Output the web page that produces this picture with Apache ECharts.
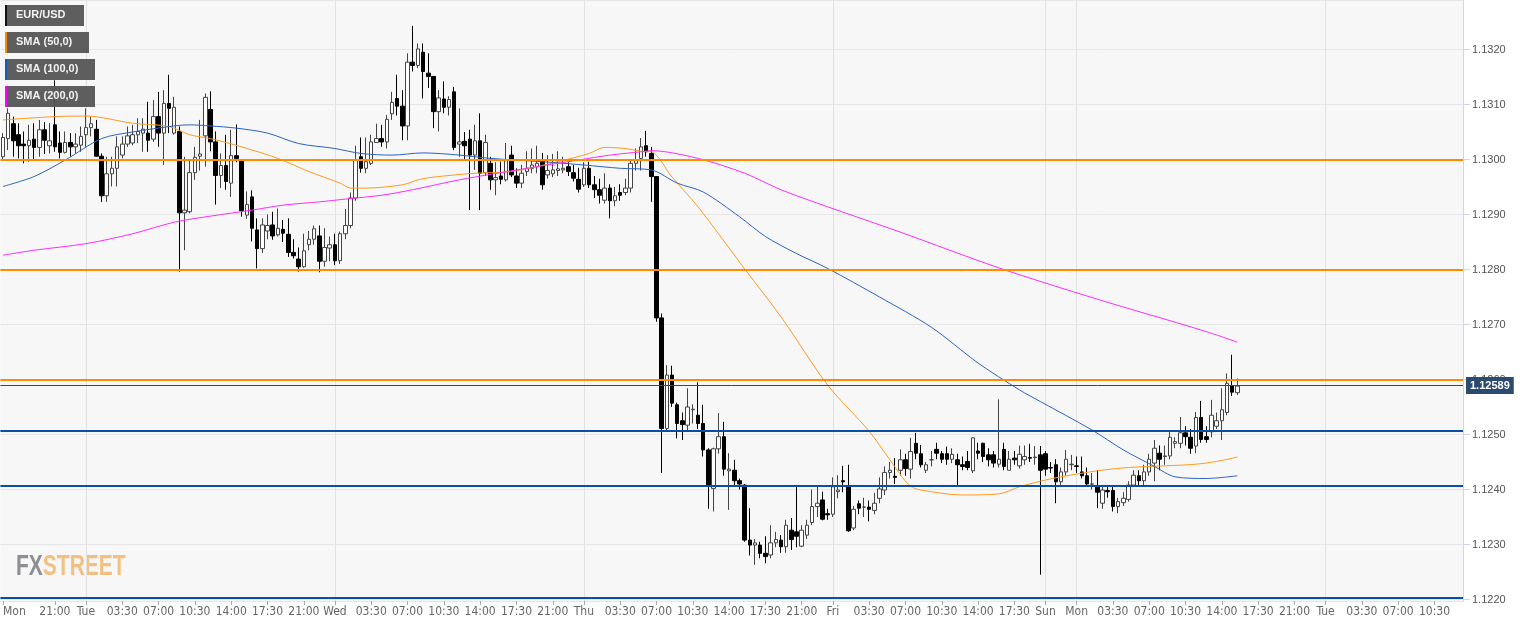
<!DOCTYPE html>
<html>
<head>
<meta charset="utf-8">
<script src="https://cdn.jsdelivr.net/npm/echarts@6/dist/echarts.min.js"></script>
<style>
html,body{margin:0;padding:0;background:#fff;}
#chart{width:1534px;height:626px;}
</style>
</head>
<body>
<div id="chart"></div>
<script>
// ---- sessions (day, start minute, number of 30-min slots) ----
const sessions = [
  ['Mon', 960, 16], ['Tue', 0, 48], ['Wed', 0, 48], ['Thu', 0, 48],
  ['Fri', 0, 41], ['Sun', 1260, 6], ['Mon', 0, 48], ['Tue', 0, 27]
];
const labelTimes = ['03:30', '07:00', '10:30', '14:00', '17:30', '21:00'];

// ---- EUR/USD 30-min candles: [open, close, low, high] ----
const candles = [
[1.13005,1.13040,1.12999,1.13048],[1.13038,1.13084,1.13017,1.13093],[1.13065,1.13034,1.13005,1.13078],[1.13045,1.13025,1.13002,1.13066],
[1.13028,1.13025,1.12993,1.13051],[1.13025,1.13035,1.12996,1.13063],[1.13037,1.13022,1.12999,1.13066],[1.13022,1.13054,1.13005,1.13072],
[1.13054,1.13035,1.13010,1.13068],[1.13025,1.13034,1.13011,1.13066],[1.13063,1.13023,1.13014,1.13144],[1.13030,1.13013,1.13002,1.13051],
[1.13013,1.13031,1.13011,1.13051],[1.13031,1.13023,1.13005,1.13048],[1.13023,1.13028,1.13011,1.13048],[1.13026,1.13042,1.13014,1.13060],
[1.13045,1.13058,1.13023,1.13093],[1.13058,1.13065,1.13042,1.13078],[1.13055,1.13006,1.13005,1.13072],[1.13006,1.12934,1.12923,1.13011],
[1.12934,1.12974,1.12923,1.13005],[1.12974,1.12984,1.12951,1.13005],[1.12984,1.13023,1.12951,1.13042],[1.13008,1.13028,1.13002,1.13042],
[1.13028,1.13043,1.13023,1.13060],[1.13030,1.13045,1.13026,1.13063],[1.13045,1.13051,1.13030,1.13075],[1.13048,1.13055,1.13014,1.13075],
[1.13048,1.13035,1.13014,1.13105],[1.13037,1.13078,1.13032,1.13108],[1.13078,1.13048,1.13023,1.13123],[1.13048,1.13102,1.12990,1.13126],
[1.13102,1.13093,1.13048,1.13154],[1.13048,1.13095,1.13045,1.13114],[1.13051,1.12903,1.12796,1.13060],[1.12903,1.12908,1.12835,1.13005],
[1.12905,1.12976,1.12902,1.12999],[1.12976,1.13004,1.12963,1.13023],[1.13006,1.13010,1.12980,1.13072],[1.13043,1.13113,1.12987,1.13120],
[1.13091,1.13032,1.13015,1.13124],[1.13032,1.12971,1.12918,1.13051],[1.12971,1.12989,1.12948,1.13011],[1.12989,1.12960,1.12945,1.13045],
[1.12957,1.13007,1.12932,1.13054],[1.13007,1.13002,1.12995,1.13064],[1.12998,1.12907,1.12896,1.13000],[1.12899,1.12918,1.12892,1.12942],
[1.12932,1.12875,1.12851,1.12944],[1.12872,1.12838,1.12802,1.12893],[1.12838,1.12881,1.12830,1.12893],[1.12870,1.12880,1.12855,1.12900],
[1.12881,1.12861,1.12854,1.12905],[1.12863,1.12875,1.12860,1.12911],[1.12873,1.12866,1.12850,1.12890],[1.12864,1.12831,1.12823,1.12893],
[1.12831,1.12825,1.12820,1.12855],[1.12819,1.12805,1.12796,1.12840],[1.12805,1.12834,1.12803,1.12865],[1.12845,1.12855,1.12835,1.12870],
[1.12855,1.12874,1.12845,1.12880],[1.12861,1.12815,1.12795,1.12880],[1.12815,1.12840,1.12805,1.12875],[1.12839,1.12845,1.12815,1.12860],
[1.12845,1.12816,1.12808,1.12865],[1.12816,1.12865,1.12810,1.12869],[1.12865,1.12880,1.12855,1.12910],[1.12880,1.12930,1.12875,1.12940],
[1.12930,1.12999,1.12925,1.13025],[1.13005,1.12984,1.12976,1.13040],[1.12984,1.12996,1.12975,1.13040],[1.12993,1.13032,1.12990,1.13045],
[1.13031,1.13038,1.13030,1.13065],[1.13038,1.13032,1.13023,1.13063],[1.13032,1.13073,1.13020,1.13081],[1.13083,1.13104,1.13072,1.13123],
[1.13111,1.13097,1.13080,1.13154],[1.13097,1.13061,1.13035,1.13126],[1.13061,1.13177,1.13035,1.13193],[1.13177,1.13171,1.13160,1.13243],
[1.13171,1.13201,1.13166,1.13211],[1.13195,1.13160,1.13111,1.13211],[1.13157,1.13151,1.13130,1.13193],[1.13151,1.13087,1.13057,1.13151],
[1.13087,1.13112,1.13051,1.13126],[1.13110,1.13095,1.13084,1.13142],[1.13095,1.13109,1.13080,1.13115],[1.13123,1.13022,1.13017,1.13132],
[1.13028,1.13032,1.13005,1.13093],[1.13033,1.13025,1.13000,1.13050],[1.13037,1.13008,1.12908,1.13054],[1.13008,1.13034,1.12981,1.13063],
[1.13034,1.12975,1.12908,1.13084],[1.12976,1.13031,1.12970,1.13045],[1.12993,1.12963,1.12945,1.13005],[1.12963,1.12967,1.12935,1.12995],
[1.12970,1.12964,1.12955,1.12996],[1.12963,1.12999,1.12960,1.13030],[1.13008,1.12972,1.12968,1.13025],[1.12970,1.12957,1.12948,1.12984],
[1.12957,1.12975,1.12948,1.12990],[1.12978,1.12984,1.12970,1.13015],[1.12984,1.12990,1.12975,1.13020],[1.12987,1.12993,1.12975,1.13025],
[1.12999,1.12954,1.12945,1.13012],[1.12972,1.12980,1.12965,1.13008],[1.12974,1.12981,1.12968,1.13010],[1.12980,1.12983,1.12970,1.13015],
[1.12981,1.12984,1.12975,1.13005],[1.12987,1.12978,1.12970,1.12995],[1.12976,1.12966,1.12960,1.12990],[1.12964,1.12946,1.12940,1.12985],
[1.12954,1.12984,1.12950,1.12995],[1.12984,1.12954,1.12948,1.12996],[1.12954,1.12945,1.12930,1.12970],[1.12945,1.12935,1.12920,1.12965],
[1.12926,1.12948,1.12920,1.12975],[1.12948,1.12925,1.12893,1.12955],[1.12925,1.12934,1.12915,1.12950],[1.12940,1.12935,1.12925,1.12955],
[1.12940,1.12948,1.12935,1.12965],[1.12948,1.12993,1.12940,1.13000],[1.12993,1.12999,1.12980,1.13020],[1.13002,1.13023,1.12980,1.13039],
[1.13025,1.13014,1.13005,1.13052],[1.13011,1.12969,1.12923,1.13023],[1.12969,1.12712,1.12705,1.12970],[1.12712,1.12511,1.12430,1.12720],
[1.12511,1.12608,1.12505,1.12626],[1.12608,1.12557,1.12550,1.12625],[1.12554,1.12520,1.12493,1.12558],[1.12525,1.12518,1.12490,1.12540],
[1.12517,1.12550,1.12505,1.12584],[1.12545,1.12546,1.12520,1.12555],[1.12535,1.12520,1.12510,1.12595],[1.12520,1.12472,1.12460,1.12554],
[1.12472,1.12408,1.12365,1.12475],[1.12402,1.12474,1.12360,1.12476],[1.12474,1.12496,1.12465,1.12539],[1.12496,1.12437,1.12425,1.12523],
[1.12434,1.12437,1.12363,1.12466],[1.12435,1.12416,1.12405,1.12454],[1.12416,1.12410,1.12400,1.12420],[1.12408,1.12308,1.12305,1.12410],
[1.12308,1.12299,1.12280,1.12366],[1.12299,1.12303,1.12263,1.12310],[1.12299,1.12284,1.12275,1.12305],[1.12284,1.12278,1.12266,1.12315],
[1.12281,1.12303,1.12275,1.12335],[1.12303,1.12309,1.12295,1.12323],[1.12308,1.12296,1.12285,1.12317],[1.12296,1.12335,1.12285,1.12345],
[1.12326,1.12309,1.12290,1.12348],[1.12323,1.12315,1.12295,1.12405],[1.12297,1.12326,1.12295,1.12335],[1.12317,1.12335,1.12310,1.12345],
[1.12340,1.12369,1.12335,1.12400],[1.12369,1.12375,1.12350,1.12405],[1.12381,1.12346,1.12344,1.12396],[1.12356,1.12354,1.12345,1.12365],
[1.12355,1.12405,1.12350,1.12422],[1.12396,1.12399,1.12384,1.12426],[1.12416,1.12414,1.12395,1.12443],[1.12405,1.12325,1.12323,1.12445],
[1.12330,1.12364,1.12326,1.12370],[1.12374,1.12366,1.12355,1.12380],[1.12368,1.12368,1.12350,1.12385],[1.12368,1.12364,1.12342,1.12380],
[1.12362,1.12375,1.12355,1.12394],[1.12384,1.12401,1.12375,1.12422],[1.12399,1.12431,1.12390,1.12442],[1.12431,1.12435,1.12420,1.12450],
[1.12424,1.12422,1.12410,1.12457],[1.12435,1.12454,1.12425,1.12473],[1.12454,1.12438,1.12425,1.12465],[1.12437,1.12469,1.12420,1.12494],
[1.12484,1.12466,1.12455,1.12503],[1.12465,1.12445,1.12440,1.12481],[1.12435,1.12445,1.12430,1.12450],[1.12454,1.12454,1.12442,1.12470],
[1.12473,1.12466,1.12455,1.12485],[1.12465,1.12455,1.12448,1.12470],[1.12465,1.12455,1.12445,1.12478],[1.12455,1.12464,1.12448,1.12475],
[1.12454,1.12445,1.12406,1.12465],[1.12445,1.12442,1.12435,1.12460],[1.12451,1.12440,1.12435,1.12470],[1.12434,1.12494,1.12430,1.12495],
[1.12470,1.12466,1.12455,1.12485],[1.12484,1.12460,1.12450,1.12485],[1.12463,1.12454,1.12442,1.12475],[1.12463,1.12448,1.12440,1.12470],
[1.12446,1.12455,1.12440,1.12564],[1.12473,1.12442,1.12435,1.12485],[1.12435,1.12455,1.12435,1.12470],[1.12457,1.12454,1.12445,1.12470],
[1.12443,1.12464,1.12438,1.12480],[1.12454,1.12460,1.12445,1.12480],[1.12458,1.12457,1.12450,1.12483],[1.12458,1.12459,1.12445,1.12479],
[1.12463,1.12435,1.12245,1.12479],[1.12465,1.12437,1.12425,1.12470],[1.12440,1.12439,1.12430,1.12450],[1.12445,1.12414,1.12375,1.12455],
[1.12414,1.12432,1.12405,1.12440],[1.12432,1.12455,1.12425,1.12472],[1.12445,1.12446,1.12435,1.12463],[1.12443,1.12442,1.12430,1.12460],
[1.12432,1.12425,1.12420,1.12460],[1.12425,1.12410,1.12405,1.12440],[1.12410,1.12410,1.12400,1.12430],[1.12405,1.12395,1.12366,1.12435],
[1.12375,1.12399,1.12365,1.12408],[1.12398,1.12396,1.12385,1.12405],[1.12398,1.12369,1.12360,1.12405],[1.12369,1.12378,1.12357,1.12385],
[1.12376,1.12384,1.12370,1.12395],[1.12382,1.12408,1.12378,1.12415],[1.12408,1.12426,1.12405,1.12435],[1.12425,1.12416,1.12408,1.12435],
[1.12416,1.12432,1.12405,1.12445],[1.12432,1.12455,1.12425,1.12465],[1.12448,1.12475,1.12415,1.12490],[1.12466,1.12455,1.12435,1.12480],
[1.12460,1.12461,1.12445,1.12480],[1.12461,1.12495,1.12455,1.12508],[1.12484,1.12487,1.12475,1.12495],[1.12484,1.12503,1.12475,1.12532],
[1.12503,1.12496,1.12480,1.12515],[1.12495,1.12475,1.12465,1.12510],[1.12479,1.12531,1.12466,1.12541],[1.12531,1.12491,1.12485,1.12561],
[1.12496,1.12491,1.12485,1.12515],[1.12505,1.12535,1.12495,1.12563],[1.12515,1.12525,1.12510,1.12540],[1.12525,1.12545,1.12490,1.12584],
[1.12540,1.12593,1.12535,1.12611],[1.12588,1.12577,1.12570,1.12645],[1.12576,1.12588,1.12572,1.12602]
];

// ---- moving averages: [candle index, value] ----
const sma50 = [[0,1.13072],[10,1.13078],[16,1.13079],[25,1.13066],[32,1.13060],[36,1.13045],[40,1.13038],[46,1.13023],
[53,1.13002],[59,1.12978],[65,1.12957],[67,1.12948],[70,1.12948],[77,1.12954],[80,1.12963],[83,1.12968],[91,1.12975],
[98,1.12978],[107,1.12996],[113,1.13011],[116,1.13022],[120,1.13020],[123,1.13015],[125,1.13014],[129,1.12968],
[134,1.12914],[143,1.12801],[150,1.12714],[159,1.12590],[167,1.12506],[171,1.12454],[175,1.12406],[179,1.12396],
[185,1.12390],[192,1.12392],[196,1.12405],[200,1.12415],[204,1.12423],[211,1.12434],[217,1.12440],[224,1.12443],
[230,1.12446],[234,1.12451],[238,1.12459]];
const sma100 = [[0,1.12951],[6,1.12969],[12,1.12999],[19,1.13038],[25,1.13050],[33,1.13061],[36,1.13063],[40,1.13061],
[45,1.13057],[51,1.13048],[57,1.13029],[64,1.13020],[69,1.13011],[75,1.13008],[81,1.13012],[88,1.13008],[94,1.13002],
[104,1.12996],[112,1.12990],[119,1.12984],[125,1.12981],[130,1.12957],[135,1.12941],[142,1.12896],[147,1.12860],
[153,1.12829],[159,1.12802],[169,1.12750],[179,1.12695],[188,1.12630],[196,1.12581],[200,1.12560],[210,1.12508],
[216,1.12472],[222,1.12442],[226,1.12423],[232,1.12420],[238,1.12425]];
const sma200 = [[0,1.12826],[6,1.12835],[16,1.12847],[25,1.12865],[33,1.12886],[40,1.12897],[48,1.12908],[54,1.12917],
[61,1.12923],[66,1.12928],[73,1.12935],[79,1.12945],[88,1.12963],[101,1.12984],[111,1.12999],[117,1.13008],[123,1.13014],
[125,1.13016],[134,1.13002],[143,1.12975],[150,1.12945],[159,1.12914],[173,1.12868],[192,1.12803],[211,1.12746],
[231,1.12690],[238,1.12668]];

// ---- levels ----
const resistanceLevels = [1.1300, 1.1280, 1.1260];
const supportLevels = [1.12506, 1.12406, 1.12203];
const lastPrice = 1.12589;

// ---- build categories & labels ----
const categories = [], labelText = [], dayStarts = [];
sessions.forEach(([day, start, n], k) => {
  for (let j = 0; j < n; j++) {
    const t = start + 30 * j;
    const time = String(Math.floor(t / 60)).padStart(2, '0') + ':' + String(t % 60).padStart(2, '0');
    const idx = categories.length;
    categories.push(k + ' ' + day + ' ' + time);
    let lab = '';
    if (j === 0) { lab = day; if (idx > 0) dayStarts.push(idx); }
    else if (j >= 5 && labelTimes.includes(time)) lab = time;
    labelText.push(lab);
  }
});

const yMax = 1.1329, yMin = 1.1219727;
const narrow = "'Liberation Sans Narrow','Arial Narrow','DejaVu Sans Condensed',sans-serif";
const arial = "'Liberation Sans',Arial,sans-serif";

const chart = echarts.init(document.getElementById('chart'), null, {renderer: 'canvas'});

const legendItems = [
  {text: 'EUR/USD', color: '#111111', w: 79},
  {text: 'SMA (50,0)', color: '#ff8c00', w: 84},
  {text: 'SMA (100,0)', color: '#1a5bb8', w: 90},
  {text: 'SMA (200,0)', color: '#ff00ff', w: 90}
];
const graphics = [];
legendItems.forEach((it, i) => {
  const y = 5 + i * 27;
  graphics.push({type: 'rect', left: 5, top: y, z: 20, shape: {width: it.w, height: 21}, style: {fill: 'rgba(85,85,85,0.95)'}});
  graphics.push({type: 'rect', left: 5, top: y, z: 21, shape: {width: 2, height: 21}, style: {fill: it.color}});
  graphics.push({type: 'text', x: 16, y: y + 4, z: 22, style: {text: it.text, fill: '#f2f2f2', font: 'bold 11px ' + arial}});
});
graphics.push({
  type: 'text', x: 16, y: 552, z: 0, scaleX: 0.70, scaleY: 1,
  style: {
    text: '{a|FX}{b|STREET}',
    rich: {
      a: {fill: '#8d8f95', font: 'bold 30px ' + arial},
      b: {fill: '#f3c084', font: 'bold 30px ' + arial}
    }
  }
});

const levelLines = [];
resistanceLevels.forEach(v => levelLines.push({yAxis: v, lineStyle: {color: '#ff8c00', width: 2, type: 'solid'}, label: {show: false}}));
supportLevels.forEach(v => levelLines.push({yAxis: v, lineStyle: {color: '#0b4ea6', width: 2, type: 'solid'}, label: {show: false}}));
levelLines.push({
  yAxis: lastPrice,
  lineStyle: {color: '#2b4a70', width: 1, type: 'solid'},
  label: {
    show: true, position: 'end', distance: 3, formatter: lastPrice.toFixed(5),
    backgroundColor: '#2b4a70', color: '#ffffff', fontWeight: 'bold', fontSize: 11,
    fontFamily: arial, padding: [3, 4, 3, 4]
  }
});

const smaSeries = (name, data, color) => ({
  name, type: 'line', data, smooth: 0.3, showSymbol: false, symbol: 'none', z: 4,
  lineStyle: {color, width: 1}, silent: true, animation: false
});

chart.setOption({
  animation: false,
  backgroundColor: '#ffffff',
  graphic: graphics,
  grid: {left: 0, right: 71, top: 0, bottom: 25, show: true, backgroundColor: '#f7f7f7', borderWidth: 0},
  xAxis: {
    type: 'category', data: categories, boundaryGap: true,
    axisLine: {show: false},
    axisTick: {show: true, length: 4, alignWithLabel: true, lineStyle: {color: '#aaaaaa'},
      interval: (i) => labelText[i] !== ''},
    axisLabel: {
      interval: (i) => labelText[i] !== '', formatter: (v, i) => labelText[i],
      color: '#666666', fontSize: 12, fontFamily: narrow, margin: 5, alignMinLabel: 'left', hideOverlap: false
    },
    splitLine: {show: false}
  },
  yAxis: {
    type: 'value', position: 'right', min: yMin, max: yMax, scale: true,
    splitNumber: 10, minInterval: 0.001, maxInterval: 0.001,
    axisLine: {show: true, lineStyle: {color: '#ccd6eb'}},
    axisTick: {show: true, length: 7, lineStyle: {color: '#ccd6eb'}},
    axisLabel: {formatter: v => v.toFixed(4), color: '#555555', fontSize: 11, fontFamily: arial, margin: 9,
      showMinLabel: false, showMaxLabel: false},
    splitLine: {show: true, lineStyle: {color: '#e6e6e6', width: 1}}
  },
  series: [
    {
      type: 'line', data: [], z: 1, silent: true,
      markLine: {
        z: 1, silent: true, symbol: ['none', 'none'], animation: false,
        label: {show: false},
        lineStyle: {color: '#e2e2e2', width: 1, type: 'solid'},
        data: dayStarts.map(i => ({xAxis: categories[i]}))
      }
    },
    {
      name: 'EUR/USD', type: 'candlestick', data: candles, z: 3, barWidth: 4,
      itemStyle: {color: '#ffffff', color0: '#000000', borderColor: '#444444', borderColor0: '#000000', borderWidth: 1}
    },
    smaSeries('SMA (50,0)', sma50, '#ff9a1f'),
    smaSeries('SMA (100,0)', sma100, '#2a64c4'),
    smaSeries('SMA (200,0)', sma200, '#ff2bff'),
    {
      type: 'line', data: [], z: 5, silent: true,
      markLine: {
        z: 5, silent: true, symbol: ['none', 'none'], animation: false, precision: 6,
        data: levelLines
      }
    }
  ]
});
</script>
</body>
</html>
